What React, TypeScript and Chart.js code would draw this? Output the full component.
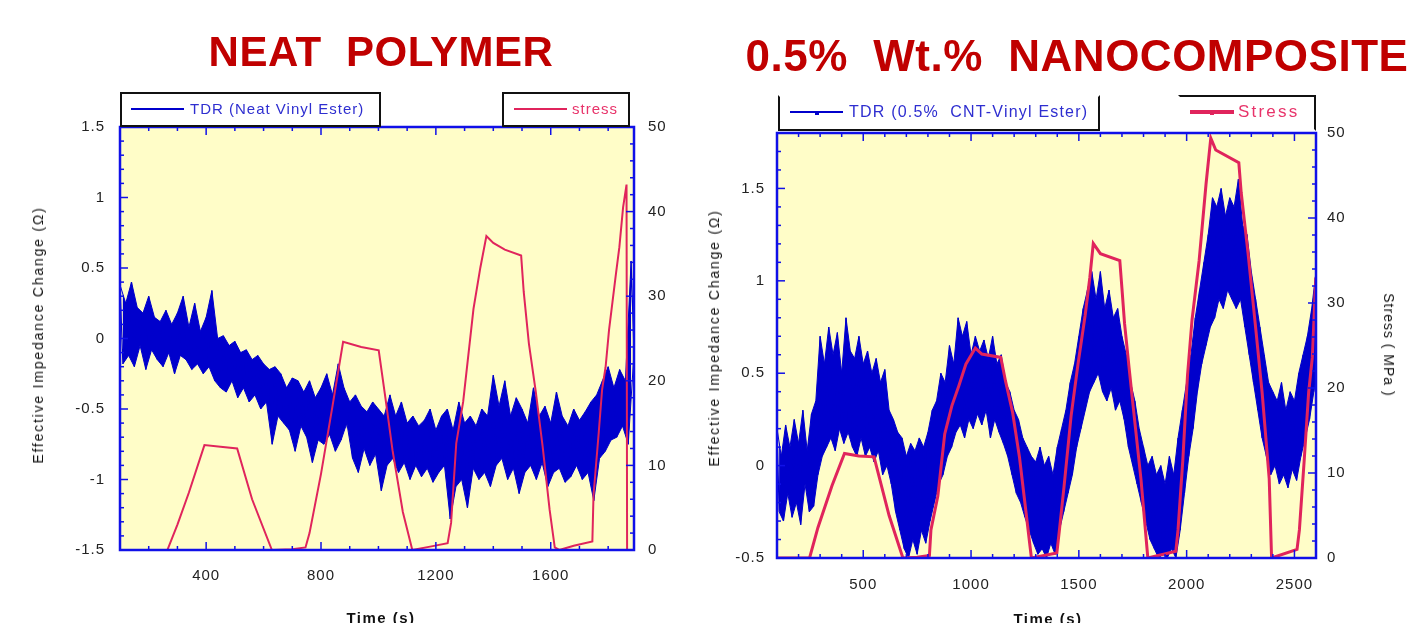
import React, { useEffect, useRef } from "react";
import { Chart, registerables } from "chart.js";

Chart.register(...registerables);

const FONT = '"Liberation Sans", Arial, Helvetica, sans-serif';
const TITLE_RED = "#c00000";
const TDR_BLUE = "#0000cc";
const STRESS_RED = "#e0245c";
const FRAME_BLUE = "#1010e8";
const PLOT_BG = "#fffdc8";

// ---------------- LEFT PANEL: neat polymer ----------------
const leftXTicks = [400, 800, 1200, 1600];
const leftYTicks = [-1.5, -1, -0.5, 0, 0.5, 1, 1.5];
const leftY2Ticks = [0, 10, 20, 30, 40, 50];

// TDR envelope readings every 20 s starting at t = 100 s (upper / lower excursions)
const leftTdrStart = 100;
const leftTdrHigh = [
  0.38, 0.25, 0.40, 0.22, 0.18, 0.30, 0.15, 0.12, 0.20, 0.10,
  0.18, 0.30, 0.08, 0.25, 0.05, 0.15, 0.34, 0.00, 0.02, -0.05,
  -0.02, -0.10, -0.08, -0.15, -0.12, -0.18, -0.22, -0.20, -0.25, -0.35,
  -0.28, -0.30, -0.38, -0.30, -0.42, -0.35, -0.25, -0.40, -0.18, -0.35,
  -0.45, -0.40, -0.48, -0.52, -0.45, -0.50, -0.55, -0.40, -0.55, -0.45,
  -0.60, -0.55, -0.62, -0.58, -0.50, -0.65, -0.55, -0.50, -0.65, -0.45,
  -0.60, -0.55, -0.62, -0.50, -0.55, -0.26, -0.48, -0.30, -0.55, -0.42,
  -0.50, -0.60, -0.35, -0.55, -0.48, -0.60, -0.38, -0.55, -0.62, -0.50,
  -0.58, -0.52, -0.45, -0.40, -0.30, -0.20, -0.35, -0.22, -0.30, 0.55,
];
const leftTdrLow = [
  -0.18, -0.12, -0.20, -0.05, -0.22, -0.08, -0.15, -0.20, -0.10, -0.25,
  -0.12, -0.15, -0.22, -0.18, -0.25, -0.20, -0.30, -0.35, -0.38, -0.30,
  -0.42, -0.35, -0.45, -0.40, -0.50, -0.45, -0.75, -0.55, -0.60, -0.65,
  -0.80, -0.62, -0.70, -0.88, -0.72, -0.75, -0.68, -0.80, -0.72, -0.60,
  -0.85, -0.95, -0.78, -0.90, -0.82, -1.08, -0.90, -0.85, -0.95, -0.88,
  -1.00, -0.90, -0.98, -0.92, -1.02, -0.95, -0.90, -1.28, -1.05, -1.00,
  -1.20, -0.92, -1.00, -0.95, -1.05, -0.90, -0.85, -1.00, -0.92, -1.10,
  -0.95, -0.90, -1.00, -0.88, -1.05, -0.95, -0.92, -1.02, -0.98, -0.90,
  -1.00, -0.95, -1.15, -0.85, -0.80, -0.72, -0.70, -0.62, -0.75, -0.10,
];

const leftStressTime = [
  100, 265, 300, 340, 394, 450, 508, 560, 629, 700,
  746, 760, 800, 840, 877, 940, 1001, 1025, 1049, 1085,
  1118, 1180, 1241, 1253, 1271, 1295, 1313, 1331, 1355, 1376,
  1400, 1440, 1497, 1506, 1524, 1548, 1572, 1596, 1614, 1630,
  1680, 1745, 1749, 1767, 1779, 1791, 1803, 1815, 1827, 1839,
  1852, 1864, 1866,
];
const leftStressMPa = [
  0, 0, 3, 6.8, 12.4, 12.2, 12.0, 6, 0, 0.1,
  0.3, 2, 9, 17, 24.6, 24.0, 23.6, 17.8, 11.8, 4.5,
  0, 0.4, 0.8, 3.2, 12.6, 17.5, 23, 28.5, 33.4, 37.1,
  36.3, 35.5, 34.8, 30.5, 24.4, 18.7, 12.2, 4.8, 0.3, 0,
  0.5, 1.0, 6.5, 13.8, 19, 21.6, 26, 29.3, 32.6, 35.8,
  40.5, 43.2, 0,
];

// ---------------- RIGHT PANEL: 0.5 wt.% nanocomposite ----------------
const rightXTicks = [500, 1000, 1500, 2000, 2500];
const rightYTicks = [-0.5, 0, 0.5, 1, 1.5];
const rightY2Ticks = [0, 10, 20, 30, 40, 50];

const rightTdrStart = 100;
const rightTdrHigh = [
  0.20, 0.05, 0.22, 0.10, 0.25, 0.12, 0.30, 0.08, 0.28, 0.35,
  0.70, 0.55, 0.75, 0.60, 0.72, 0.50, 0.80, 0.62, 0.58, 0.70,
  0.55, 0.62, 0.50, 0.58, 0.45, 0.52, 0.30, 0.25, 0.18, 0.15,
  0.05, 0.12, 0.08, 0.15, 0.10, 0.18, 0.30, 0.35, 0.50, 0.45,
  0.65, 0.55, 0.80, 0.70, 0.78, 0.60, 0.70, 0.62, 0.68, 0.58,
  0.70, 0.55, 0.60, 0.45, 0.40, 0.30, 0.25, 0.15, 0.10, 0.05,
  0.02, 0.10, 0.00, 0.05, -0.05, 0.10, 0.20, 0.30, 0.45, 0.55,
  0.70, 0.85, 0.95, 1.05, 0.90, 1.05, 0.85, 0.95, 0.80, 0.85,
  0.70, 0.60, 0.45, 0.35, 0.20, 0.10, 0.00, 0.05, -0.05, 0.00,
  -0.10, 0.05, -0.05, 0.15, 0.30, 0.45, 0.60, 0.80, 0.95, 1.10,
  1.25, 1.45, 1.40, 1.50, 1.35, 1.45, 1.40, 1.55, 1.30, 1.25,
  1.05, 0.90, 0.75, 0.60, 0.45, 0.40, 0.35, 0.45, 0.30, 0.40,
  0.35, 0.50, 0.60, 0.70, 0.85, 1.05,
];
const rightTdrLow = [
  -0.25, -0.30, -0.15, -0.28, -0.20, -0.32, -0.10, -0.25, -0.22, -0.05,
  0.05, 0.10, 0.15, 0.08, 0.20, 0.12, 0.18, 0.10, 0.05, 0.15,
  0.05, 0.10, 0.02, 0.08, -0.05, 0.00, -0.10, -0.25, -0.35, -0.45,
  -0.50, -0.40, -0.48, -0.35, -0.42, -0.30, -0.20, -0.10, -0.05, 0.05,
  0.10, 0.18, 0.22, 0.15, 0.25, 0.20, 0.28, 0.22, 0.30, 0.15,
  0.25, 0.18, 0.12, 0.05, -0.05, -0.15, -0.20, -0.28, -0.35, -0.42,
  -0.48, -0.45, -0.50, -0.42, -0.48, -0.35, -0.25, -0.15, -0.05, 0.10,
  0.20, 0.30, 0.40, 0.45, 0.50, 0.40, 0.35, 0.42, 0.30, 0.35,
  0.25, 0.10, 0.00, -0.10, -0.20, -0.30, -0.40, -0.45, -0.50, -0.48,
  -0.50, -0.45, -0.50, -0.35, -0.15, 0.05, 0.20, 0.40, 0.55, 0.65,
  0.75, 0.80, 0.90, 0.85, 0.95, 0.90, 0.85, 0.90, 0.75, 0.60,
  0.45, 0.30, 0.15, 0.05, -0.05, 0.00, -0.10, -0.05, -0.12, -0.02,
  -0.08, 0.05, 0.15, 0.25, 0.40, 0.55,
];

const rightStressTime = [
  100, 251, 290, 355, 413, 480, 550, 620, 684, 750,
  807, 814, 846, 878, 911, 944, 976, 1020, 1050, 1138,
  1160, 1193, 1225, 1246, 1280, 1398, 1410, 1431, 1464, 1496,
  1529, 1551, 1567, 1600, 1690, 1700, 1712, 1733, 1755, 1788,
  1820, 1950, 1960, 1982, 2004, 2025, 2058, 2090, 2112, 2135,
  2242, 2253, 2285, 2318, 2350, 2383, 2394, 2512, 2523, 2545,
  2566, 2583, 2599,
];
const rightStressMPa = [
  0, 0, 3.6, 8.5, 12.3, 12.0, 11.9, 5, 0, 0.1,
  0.3, 3.3, 7.3, 14.6, 17.9, 20.3, 22.8, 24.7, 24.0, 23.6,
  20.8, 17.1, 11.8, 7.3, 0, 0.6, 3.3, 8.3, 16.7, 22.8,
  28.5, 33, 37, 35.8, 35, 31.7, 27.6, 22.4, 17.1, 9.3,
  0, 0.8, 3.3, 11.4, 21.5, 28, 35, 44, 49.4, 48,
  46.5, 43, 35.8, 27.6, 19.5, 9.3, 0, 1.0, 3.3, 11.4,
  19.5, 23.6, 33,
];

const TDR_STEP = 20; // seconds between envelope readings

type Pt = { x: number; y: number };

function envelope(start: number, vals: number[], offset: number): Pt[] {
  return vals.map((v, i) => ({ x: start + i * TDR_STEP + offset, y: v }));
}

function zigzag(start: number, high: number[], low: number[]): Pt[] {
  const pts: Pt[] = [];
  high.forEach((h, i) => {
    const t = start + i * TDR_STEP;
    pts.push({ x: t, y: h });
    pts.push({ x: t + TDR_STEP / 2, y: low[i] });
  });
  return pts;
}

function pairs(xs: number[], ys: number[]): Pt[] {
  return xs.map((x, i) => ({ x, y: ys[i] }));
}

function range(from: number, to: number, step: number): number[] {
  const out: number[] = [];
  const n = Math.round((to - from) / step);
  for (let i = 0; i <= n; i++) out.push(Math.round((from + i * step) * 1000) / 1000);
  return out;
}

const frameAndTicks = {
  id: "frameAndTicks",
  beforeDraw(chart: any) {
    const ctx = chart.ctx;
    try {
      ctx.letterSpacing = "1px";
    } catch (e) {}
  },
  beforeDatasetsDraw(chart: any, _a: any, opts: any) {
    const { ctx, chartArea: a } = chart;
    ctx.save();
    ctx.fillStyle = opts.background;
    ctx.fillRect(a.left, a.top, a.right - a.left, a.bottom - a.top);
    ctx.restore();
  },
  afterDatasetsDraw(chart: any, _a: any, opts: any) {
    const { ctx, chartArea: a, scales } = chart;
    const isMajor = (v: number, majors: number[]) => majors.some((m) => Math.abs(m - v) < 1e-6);
    const line = (x0: number, y0: number, x1: number, y1: number) => {
      ctx.beginPath();
      ctx.moveTo(x0, y0);
      ctx.lineTo(x1, y1);
      ctx.stroke();
    };
    ctx.save();
    ctx.strokeStyle = opts.color;
    ctx.lineWidth = 1.5;
    for (const v of opts.xMinor) {
      const px = scales.x.getPixelForValue(v);
      if (px <= a.left + 1 || px >= a.right - 1) continue;
      const len = isMajor(v, opts.xMajor) ? 8 : 4;
      line(px, a.bottom, px, a.bottom - len);
      line(px, a.top, px, a.top + len);
    }
    for (const v of opts.yMinor) {
      const py = scales.y.getPixelForValue(v);
      if (py <= a.top + 1 || py >= a.bottom - 1) continue;
      const len = isMajor(v, opts.yMajor) ? 8 : 4;
      line(a.left, py, a.left + len, py);
    }
    for (const v of opts.y2Minor) {
      const py = scales.y2.getPixelForValue(v);
      if (py <= a.top + 1 || py >= a.bottom - 1) continue;
      const len = isMajor(v, opts.y2Major) ? 8 : 4;
      line(a.right, py, a.right - len, py);
    }
    ctx.lineWidth = 2.5;
    ctx.strokeRect(a.left, a.top, a.right - a.left, a.bottom - a.top);
    ctx.restore();
  },
};

type PanelSpec = {
  left: number;
  width: number;
  height: number;
  plotLeft: number;
  plotRight: number;
  plotTop: number;
  plotBottom: number;
  xMin: number;
  xMax: number;
  yMin: number;
  yMax: number;
  xTicks: number[];
  yTicks: number[];
  y2Ticks: number[];
  xMinor: number[];
  yMinor: number[];
  y2Minor: number[];
  tdrHigh: Pt[];
  tdrLow: Pt[];
  tdrZig: Pt[];
  stress: Pt[];
  stressWidth: number;
  xLabelPad: number;
  yLabelPad: number;
  y2LabelPad: number;
};

const leftSpec: PanelSpec = {
  left: 0,
  width: 700,
  height: 623,
  plotLeft: 120,
  plotRight: 634,
  plotTop: 127,
  plotBottom: 550,
  xMin: 100,
  xMax: 1890,
  yMin: -1.5,
  yMax: 1.5,
  xTicks: leftXTicks,
  yTicks: leftYTicks,
  y2Ticks: leftY2Ticks,
  xMinor: range(100, 1800, 100),
  yMinor: range(-1.5, 1.5, 0.1),
  y2Minor: range(0, 50, 2),
  tdrHigh: envelope(leftTdrStart, leftTdrHigh, 0),
  tdrLow: envelope(leftTdrStart, leftTdrLow, TDR_STEP / 2),
  tdrZig: zigzag(leftTdrStart, leftTdrHigh, leftTdrLow),
  stress: pairs(leftStressTime, leftStressMPa),
  stressWidth: 2,
  xLabelPad: 17,
  yLabelPad: 15,
  y2LabelPad: 14,
};

const rightSpec: PanelSpec = {
  left: 700,
  width: 726,
  height: 623,
  plotLeft: 77,
  plotRight: 616,
  plotTop: 133,
  plotBottom: 558,
  xMin: 100,
  xMax: 2600,
  yMin: -0.5,
  yMax: 1.8,
  xTicks: rightXTicks,
  yTicks: rightYTicks,
  y2Ticks: rightY2Ticks,
  xMinor: range(100, 2600, 100),
  yMinor: range(-0.5, 1.8, 0.1),
  y2Minor: range(0, 50, 2),
  tdrHigh: envelope(rightTdrStart, rightTdrHigh, 0),
  tdrLow: envelope(rightTdrStart, rightTdrLow, TDR_STEP / 2),
  tdrZig: zigzag(rightTdrStart, rightTdrHigh, rightTdrLow),
  stress: pairs(rightStressTime, rightStressMPa),
  stressWidth: 3,
  xLabelPad: 18,
  yLabelPad: 12,
  y2LabelPad: 11,
};

function Panel({ spec }: { spec: PanelSpec }) {
  const ref = useRef<HTMLCanvasElement | null>(null);
  useEffect(() => {
    if (!ref.current) return;
    const s = spec;
    const tickFont = { family: FONT, size: 15 };
    const fmt = (v: any) => String(v);
    const chart = new Chart(ref.current, {
      type: "line",
      data: {
        datasets: [
          {
            label: "stress",
            data: s.stress,
            yAxisID: "y2",
            borderColor: STRESS_RED,
            borderWidth: s.stressWidth,
            pointRadius: 0,
            tension: 0,
            fill: false,
          },
          {
            label: "TDR",
            data: s.tdrZig,
            yAxisID: "y",
            borderColor: TDR_BLUE,
            borderWidth: 1.2,
            pointRadius: 0,
            tension: 0,
            fill: false,
          },
          {
            label: "TDR upper",
            data: s.tdrHigh,
            yAxisID: "y",
            borderColor: TDR_BLUE,
            borderWidth: 1,
            backgroundColor: TDR_BLUE,
            pointRadius: 0,
            tension: 0,
            fill: "+1",
          },
          {
            label: "TDR lower",
            data: s.tdrLow,
            yAxisID: "y",
            borderColor: TDR_BLUE,
            borderWidth: 1,
            pointRadius: 0,
            tension: 0,
            fill: false,
          },
        ],
      } as any,
      options: {
        animation: false,
        responsive: false,
        events: [],
        layout: { padding: { top: s.plotTop, left: 0, right: 0, bottom: 0 } },
        plugins: {
          legend: { display: false },
          tooltip: { enabled: false },
          filler: { propagate: false },
          frameAndTicks: {
            background: PLOT_BG,
            color: FRAME_BLUE,
            xMajor: s.xTicks,
            xMinor: s.xMinor,
            yMajor: s.yTicks,
            yMinor: s.yMinor,
            y2Major: s.y2Ticks,
            y2Minor: s.y2Minor,
          },
        } as any,
        scales: {
          x: {
            type: "linear",
            min: s.xMin,
            max: s.xMax,
            grid: { display: false, drawTicks: false },
            border: { display: false },
            ticks: { font: tickFont, color: "#222", padding: s.xLabelPad, maxRotation: 0, autoSkip: false, callback: fmt },
            afterBuildTicks: (sc: any) => {
              sc.ticks = s.xTicks.map((v) => ({ value: v }));
            },
            afterFit: (sc: any) => {
              sc.height = s.height - s.plotBottom;
            },
          },
          y: {
            type: "linear",
            position: "left",
            min: s.yMin,
            max: s.yMax,
            grid: { display: false, drawTicks: false },
            border: { display: false },
            ticks: { font: tickFont, color: "#222", padding: s.yLabelPad, autoSkip: false, callback: fmt },
            afterBuildTicks: (sc: any) => {
              sc.ticks = s.yTicks.map((v) => ({ value: v }));
            },
            afterFit: (sc: any) => {
              sc.width = s.plotLeft;
            },
          },
          y2: {
            type: "linear",
            position: "right",
            min: 0,
            max: 50,
            grid: { display: false, drawTicks: false },
            border: { display: false },
            ticks: { font: tickFont, color: "#222", padding: s.y2LabelPad, autoSkip: false, callback: fmt },
            afterBuildTicks: (sc: any) => {
              sc.ticks = s.y2Ticks.map((v) => ({ value: v }));
            },
            afterFit: (sc: any) => {
              sc.width = s.width - s.plotRight;
            },
          },
        },
      } as any,
      plugins: [frameAndTicks as any],
    });
    return () => chart.destroy();
  }, [spec]);
  return (
    <canvas
      ref={ref}
      width={spec.width}
      height={spec.height}
      style={{ position: "absolute", left: spec.left, top: 0, width: spec.width, height: spec.height }}
    />
  );
}

const abs = (o: React.CSSProperties): React.CSSProperties => ({ position: "absolute", ...o });

function Title({ text, cx, baseline, size }: { text: string; cx: number; baseline: number; size: number }) {
  return (
    <div
      style={abs({
        left: cx,
        top: baseline - 0.8465 * size,
        transform: "translateX(-50%)",
        fontFamily: FONT,
        fontWeight: "bold",
        fontSize: size,
        lineHeight: `${size}px`,
        color: TITLE_RED,
        whiteSpace: "pre",
        letterSpacing: 0.5,
      })}
    >
      {text}
    </div>
  );
}

function AxisTitle({
  text,
  cx,
  cy,
  rot,
  size,
  bold,
  spacing,
}: {
  text: string;
  cx: number;
  cy: number;
  rot: number;
  size: number;
  bold?: boolean;
  spacing: number;
}) {
  return (
    <div
      style={abs({
        left: cx,
        top: cy,
        transform: `translate(-50%, -50%) rotate(${rot}deg)`,
        fontFamily: FONT,
        fontWeight: bold ? "bold" : "normal",
        fontSize: size,
        lineHeight: `${size + 4}px`,
        color: "#111",
        whiteSpace: "pre",
        letterSpacing: spacing,
      })}
    >
      {text}
    </div>
  );
}

function LegendBox({
  left,
  top,
  width,
  height,
  sides,
}: {
  left: number;
  top: number;
  width: number;
  height: number;
  sides: [boolean, boolean, boolean, boolean];
}) {
  const b = (on: boolean) => (on ? "2px solid #111" : "2px solid transparent");
  return (
    <div
      style={abs({
        left,
        top,
        width,
        height,
        boxSizing: "border-box",
        borderTop: b(sides[0]),
        borderRight: b(sides[1]),
        borderBottom: b(sides[2]),
        borderLeft: b(sides[3]),
        background: "#fff",
      })}
    />
  );
}

function LegendEntry({
  x0,
  x1,
  y,
  color,
  lw,
  marker,
  text,
  textX,
  textColor,
  size,
  spacing,
}: {
  x0: number;
  x1: number;
  y: number;
  color: string;
  lw: number;
  marker?: boolean;
  text: string;
  textX: number;
  textColor: string;
  size: number;
  spacing: number;
}) {
  return (
    <>
      <div style={abs({ left: x0, top: y - lw / 2, width: x1 - x0, height: lw, background: color })} />
      {marker ? (
        <div style={abs({ left: (x0 + x1) / 2 - 2, top: y - 1, width: 4, height: 4, background: color })} />
      ) : null}
      <div
        style={abs({
          left: textX,
          top: y - 11,
          lineHeight: "22px",
          fontFamily: FONT,
          fontSize: size,
          color: textColor,
          whiteSpace: "pre",
          letterSpacing: spacing,
        })}
      >
        {text}
      </div>
    </>
  );
}

export default function App() {
  return (
    <div style={{ position: "absolute", left: 0, top: 0, width: 1426, height: 623, background: "#fff", overflow: "hidden" }}>
      <Panel spec={leftSpec} />
      <Panel spec={rightSpec} />

      <Title text="NEAT  POLYMER" cx={381} baseline={67} size={42} />
      <Title text="0.5%  Wt.%  NANOCOMPOSITE" cx={1077} baseline={71} size={44} />

      {/* left legends */}
      <LegendBox left={120} top={92} width={261} height={35} sides={[true, true, true, true]} />
      <LegendEntry x0={131} x1={184} y={109} color={TDR_BLUE} lw={2} text="TDR (Neat Vinyl Ester)" textX={190} textColor="#2e2ed0" size={15} spacing={1} />
      <LegendBox left={502} top={92} width={128} height={35} sides={[true, true, true, true]} />
      <LegendEntry x0={514} x1={567} y={109} color={STRESS_RED} lw={2} text="stress" textX={572} textColor="#e8336a" size={15} spacing={1} />

      {/* right legends */}
      <LegendBox left={778} top={95} width={322} height={36} sides={[false, true, true, true]} />
      <LegendEntry x0={790} x1={843} y={112} color={TDR_BLUE} lw={2} marker text="TDR (0.5%  CNT-Vinyl Ester)" textX={849} textColor="#2e2ed0" size={16} spacing={1.2} />
      <LegendBox left={1178} top={95} width={138} height={36} sides={[true, true, false, false]} />
      <LegendEntry x0={1190} x1={1234} y={112} color={STRESS_RED} lw={4} marker text="Stress" textX={1238} textColor="#e8336a" size={17} spacing={2.2} />

      {/* axis titles */}
      <AxisTitle text="Effective Impedance Change (Ω)" cx={38} cy={335} rot={-90} size={14} spacing={1.8} />
      <AxisTitle text="Effective Impedance Change (Ω)" cx={714} cy={338} rot={-90} size={14} spacing={1.8} />
      <AxisTitle text="Stress ( MPa )" cx={1389} cy={345} rot={90} size={14} spacing={1} />
      <AxisTitle text="Time (s)" cx={381} cy={617} rot={0} size={15} bold spacing={1.5} />
      <AxisTitle text="Time (s)" cx={1048} cy={618} rot={0} size={15} bold spacing={1.5} />
    </div>
  );
}
